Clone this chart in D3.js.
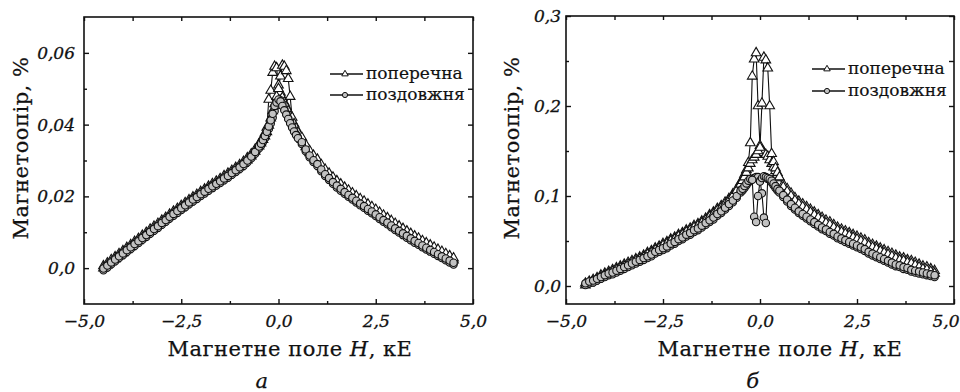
<!DOCTYPE html>
<html>
<head>
<meta charset="utf-8">
<script src="https://cdn.jsdelivr.net/npm/d3@7"></script>
<style>
body { margin: 0; background: #fff; }
svg { display: block; }
.tick text { font-family: "DejaVu Serif", serif; font-style: italic; font-size: 17px; fill: #111; stroke: #111; stroke-width: 0.3px; }
.title { font-family: "DejaVu Serif", serif; font-size: 21px; letter-spacing: 0.5px; fill: #111; stroke: #111; stroke-width: 0.25px; }
.leg { font-family: "DejaVu Serif", serif; font-size: 17px; fill: #111; stroke: #111; stroke-width: 0.2px; }
</style>
</head>
<body>
<div id="chart"></div>
<script>
// magnetic field H, kOe (same grid for every sweep)
var fieldH = [
  -4.5, -4.4, -4.3, -4.2, -4.1, -4.0, -3.9, -3.8, -3.7, -3.6,
  -3.5, -3.4, -3.3, -3.2, -3.1, -3.0, -2.9, -2.8, -2.7, -2.6,
  -2.5, -2.4, -2.3, -2.2, -2.1, -2.0, -1.9, -1.8, -1.7, -1.6,
  -1.5, -1.4, -1.3, -1.2, -1.1, -1.0, -0.9, -0.8, -0.7, -0.6,
  -0.5, -0.45, -0.4, -0.35, -0.3, -0.25, -0.2, -0.15, -0.1, -0.05,
  0, 0.05, 0.1, 0.15, 0.2, 0.25, 0.3, 0.35, 0.4, 0.45, 0.5,
  0.6, 0.7, 0.8, 0.9, 1.0, 1.1, 1.2, 1.3, 1.4, 1.5,
  1.6, 1.7, 1.8, 1.9, 2.0, 2.1, 2.2, 2.3, 2.4, 2.5,
  2.6, 2.7, 2.8, 2.9, 3.0, 3.1, 3.2, 3.3, 3.4, 3.5,
  3.6, 3.7, 3.8, 3.9, 4.0, 4.1, 4.2, 4.3, 4.4, 4.5
];

// panel a, magnetoresistance %
var aTransUp = [
  0.0006, 0.0014, 0.0023, 0.0031, 0.0040, 0.0048, 0.0057, 0.0065, 0.0074, 0.0082,
  0.0091, 0.0099, 0.0108, 0.0116, 0.0124, 0.0133, 0.0141, 0.0150, 0.0158, 0.0166,
  0.0174, 0.0182, 0.0190, 0.0198, 0.0205, 0.0213, 0.0220, 0.0228, 0.0235, 0.0242,
  0.0249, 0.0257, 0.0264, 0.0272, 0.0280, 0.0288, 0.0297, 0.0307, 0.0318, 0.0331,
  0.0346, 0.0354, 0.0364, 0.0376, 0.0392, 0.0470, 0.0495, 0.0545, 0.0562, 0.0558,
  0.0510, 0.0490, 0.0475, 0.0462, 0.0450, 0.0438, 0.0423, 0.0410, 0.0398, 0.0386, 0.0376,
  0.0358, 0.0338, 0.0321, 0.0308, 0.0297, 0.0282, 0.0269, 0.0258, 0.0247, 0.0237,
  0.0228, 0.0219, 0.0211, 0.0203, 0.0195, 0.0187, 0.0180, 0.0172, 0.0165, 0.0157,
  0.0149, 0.0141, 0.0134, 0.0126, 0.0118, 0.0111, 0.0104, 0.0097, 0.0090, 0.0083,
  0.0077, 0.0070, 0.0064, 0.0058, 0.0052, 0.0046, 0.0040, 0.0034, 0.0028, 0.0022
];
var aTransDown = [
  0.0000, 0.0008, 0.0017, 0.0025, 0.0034, 0.0042, 0.0051, 0.0059, 0.0068, 0.0076,
  0.0085, 0.0093, 0.0102, 0.0110, 0.0118, 0.0127, 0.0135, 0.0144, 0.0152, 0.0160,
  0.0168, 0.0176, 0.0184, 0.0192, 0.0199, 0.0207, 0.0214, 0.0222, 0.0229, 0.0236,
  0.0243, 0.0251, 0.0258, 0.0266, 0.0274, 0.0282, 0.0291, 0.0301, 0.0312, 0.0325,
  0.0340, 0.0348, 0.0358, 0.0368, 0.0380, 0.0398, 0.0418, 0.0438, 0.0458, 0.0478,
  0.0500, 0.0535, 0.0565, 0.0562, 0.0550, 0.0528, 0.0478, 0.0420, 0.0402, 0.0390, 0.0378,
  0.0364, 0.0344, 0.0327, 0.0314, 0.0303, 0.0288, 0.0275, 0.0264, 0.0253, 0.0243,
  0.0234, 0.0225, 0.0217, 0.0209, 0.0201, 0.0193, 0.0186, 0.0178, 0.0171, 0.0163,
  0.0155, 0.0147, 0.0140, 0.0132, 0.0124, 0.0117, 0.0110, 0.0103, 0.0096, 0.0089,
  0.0083, 0.0076, 0.0070, 0.0064, 0.0058, 0.0052, 0.0046, 0.0040, 0.0034, 0.0028
];
var aLongUp = [
  -0.0006, 0.0002, 0.0011, 0.0019, 0.0028, 0.0036, 0.0045, 0.0053, 0.0062, 0.0070,
  0.0079, 0.0087, 0.0096, 0.0104, 0.0112, 0.0121, 0.0129, 0.0138, 0.0146, 0.0154,
  0.0162, 0.0170, 0.0178, 0.0186, 0.0193, 0.0201, 0.0208, 0.0216, 0.0223, 0.0230,
  0.0237, 0.0245, 0.0252, 0.0260, 0.0268, 0.0276, 0.0285, 0.0295, 0.0306, 0.0319,
  0.0334, 0.0342, 0.0352, 0.0362, 0.0374, 0.0388, 0.0403, 0.0420, 0.0438, 0.0453,
  0.0460, 0.0468, 0.0458, 0.0443, 0.0430, 0.0418, 0.0406, 0.0394, 0.0383, 0.0373, 0.0364,
  0.0346, 0.0326, 0.0309, 0.0296, 0.0285, 0.0270, 0.0257, 0.0246, 0.0235, 0.0225,
  0.0216, 0.0207, 0.0199, 0.0191, 0.0183, 0.0175, 0.0168, 0.0160, 0.0153, 0.0145,
  0.0137, 0.0129, 0.0122, 0.0114, 0.0106, 0.0099, 0.0092, 0.0085, 0.0078, 0.0071,
  0.0065, 0.0058, 0.0052, 0.0046, 0.0040, 0.0034, 0.0028, 0.0022, 0.0016, 0.0010
];
var aLongDown = [
  -0.0001, 0.0007, 0.0016, 0.0024, 0.0033, 0.0041, 0.0050, 0.0058, 0.0067, 0.0075,
  0.0084, 0.0092, 0.0101, 0.0109, 0.0117, 0.0126, 0.0134, 0.0143, 0.0151, 0.0159,
  0.0167, 0.0175, 0.0183, 0.0191, 0.0198, 0.0206, 0.0213, 0.0221, 0.0228, 0.0235,
  0.0242, 0.0250, 0.0257, 0.0265, 0.0273, 0.0281, 0.0290, 0.0300, 0.0311, 0.0324,
  0.0339, 0.0347, 0.0357, 0.0368, 0.0380, 0.0395, 0.0412, 0.0430, 0.0452, 0.0462,
  0.0470, 0.0465, 0.0452, 0.0440, 0.0428, 0.0416, 0.0404, 0.0392, 0.0381, 0.0371, 0.0362,
  0.0351, 0.0331, 0.0314, 0.0301, 0.0290, 0.0275, 0.0262, 0.0251, 0.0240, 0.0230,
  0.0221, 0.0212, 0.0204, 0.0196, 0.0188, 0.0180, 0.0173, 0.0165, 0.0158, 0.0150,
  0.0142, 0.0134, 0.0127, 0.0119, 0.0111, 0.0104, 0.0097, 0.0090, 0.0083, 0.0076,
  0.0070, 0.0063, 0.0057, 0.0051, 0.0045, 0.0039, 0.0033, 0.0027, 0.0021, 0.0015
];

// panel b, magnetoresistance %
var bTransUp = [
  0.003, 0.005, 0.007, 0.009, 0.012, 0.014, 0.016, 0.018, 0.020, 0.022,
  0.024, 0.026, 0.028, 0.030, 0.032, 0.034, 0.037, 0.039, 0.042, 0.044,
  0.047, 0.049, 0.052, 0.054, 0.057, 0.059, 0.062, 0.064, 0.067, 0.069,
  0.072, 0.075, 0.079, 0.082, 0.086, 0.089, 0.093, 0.097, 0.102, 0.108,
  0.115, 0.119, 0.124, 0.129, 0.137, 0.159, 0.233, 0.252, 0.259, 0.200,
  0.156, 0.151, 0.148, 0.146, 0.144, 0.140, 0.136, 0.132, 0.128, 0.124, 0.120,
  0.113, 0.108, 0.103, 0.098, 0.094, 0.091, 0.088, 0.085, 0.082, 0.079,
  0.076, 0.073, 0.071, 0.068, 0.065, 0.063, 0.061, 0.059, 0.057, 0.055,
  0.053, 0.051, 0.048, 0.046, 0.044, 0.042, 0.040, 0.038, 0.036, 0.034,
  0.032, 0.031, 0.029, 0.028, 0.026, 0.024, 0.022, 0.021, 0.019, 0.017
];
var bTransDown = [
  0.001, 0.003, 0.005, 0.007, 0.010, 0.012, 0.014, 0.016, 0.018, 0.020,
  0.022, 0.024, 0.026, 0.028, 0.030, 0.032, 0.035, 0.037, 0.040, 0.042,
  0.045, 0.047, 0.050, 0.052, 0.055, 0.057, 0.060, 0.062, 0.065, 0.067,
  0.070, 0.073, 0.077, 0.080, 0.084, 0.087, 0.091, 0.095, 0.100, 0.106,
  0.113, 0.117, 0.121, 0.126, 0.131, 0.136, 0.140, 0.143, 0.146, 0.150,
  0.154, 0.203, 0.254, 0.251, 0.242, 0.200, 0.147, 0.138, 0.131, 0.126, 0.121,
  0.110, 0.105, 0.100, 0.095, 0.091, 0.088, 0.085, 0.082, 0.079, 0.076,
  0.073, 0.070, 0.068, 0.065, 0.062, 0.060, 0.058, 0.056, 0.054, 0.052,
  0.050, 0.048, 0.045, 0.043, 0.041, 0.039, 0.037, 0.035, 0.033, 0.031,
  0.029, 0.028, 0.026, 0.025, 0.023, 0.021, 0.019, 0.018, 0.016, 0.014
];
var bLongUp = [
  0.001, 0.003, 0.004, 0.006, 0.008, 0.010, 0.012, 0.013, 0.015, 0.017,
  0.019, 0.021, 0.023, 0.025, 0.027, 0.029, 0.031, 0.033, 0.036, 0.038,
  0.040, 0.042, 0.045, 0.047, 0.050, 0.052, 0.055, 0.057, 0.060, 0.062,
  0.065, 0.068, 0.071, 0.074, 0.078, 0.081, 0.085, 0.089, 0.093, 0.098,
  0.104, 0.106, 0.109, 0.112, 0.115, 0.117, 0.119, 0.120, 0.121, 0.121,
  0.117, 0.103, 0.076, 0.070, 0.119, 0.118, 0.115, 0.112, 0.109, 0.106, 0.104,
  0.099, 0.094, 0.089, 0.085, 0.081, 0.078, 0.075, 0.072, 0.069, 0.066,
  0.063, 0.061, 0.058, 0.056, 0.053, 0.051, 0.049, 0.047, 0.045, 0.043,
  0.041, 0.039, 0.036, 0.034, 0.032, 0.030, 0.028, 0.026, 0.024, 0.022,
  0.021, 0.019, 0.018, 0.016, 0.015, 0.014, 0.013, 0.012, 0.011, 0.010
];
var bLongDown = [
  0.003, 0.005, 0.006, 0.008, 0.010, 0.012, 0.014, 0.015, 0.017, 0.019,
  0.021, 0.023, 0.025, 0.027, 0.029, 0.031, 0.033, 0.035, 0.038, 0.040,
  0.042, 0.044, 0.047, 0.049, 0.052, 0.054, 0.057, 0.059, 0.062, 0.064,
  0.067, 0.070, 0.073, 0.076, 0.080, 0.083, 0.087, 0.091, 0.095, 0.100,
  0.106, 0.108, 0.111, 0.114, 0.117, 0.119, 0.118, 0.077, 0.071, 0.100,
  0.116, 0.120, 0.122, 0.121, 0.120, 0.119, 0.117, 0.114, 0.111, 0.108, 0.106,
  0.101, 0.096, 0.091, 0.087, 0.083, 0.080, 0.077, 0.074, 0.071, 0.068,
  0.065, 0.063, 0.060, 0.058, 0.055, 0.053, 0.051, 0.049, 0.047, 0.045,
  0.043, 0.041, 0.038, 0.036, 0.034, 0.032, 0.030, 0.028, 0.026, 0.024,
  0.023, 0.021, 0.020, 0.018, 0.017, 0.016, 0.015, 0.014, 0.013, 0.012
];

var seriesNames = ["поперечна", "поздовжня"];
var xTicks = [-5, -2.5, 0, 2.5, 5];
var xTickLabels = ["\u22125,0", "\u22122,5", "0,0", "2,5", "5,0"];
var xMinor = [-3.75, -1.25, 1.25, 3.75];
var aYTicks = [0, 0.02, 0.04, 0.06];
var aYTickLabels = ["0,0", "0,02", "0,04", "0,06"];
var aYMinor = [0.01, 0.03, 0.05];
var bYTicks = [0, 0.1, 0.2, 0.3];
var bYTickLabels = ["0,0", "0,1", "0,2", "0,3"];
var bYMinor = [0.05, 0.15, 0.25];

var svg = d3.select("#chart").append("svg")
    .attr("width", 960)
    .attr("height", 392);

svg.append("rect").attr("width", 960).attr("height", 392).attr("fill", "#fff");

function drawPanel(p) {
    var g = svg.append("g");
    var x = d3.scaleLinear().domain([-5, 5]).range([p.left, p.right]);
    var y = d3.scaleLinear().domain(p.yDomain).range([p.bottom, p.top]);

    // inward ticks on all four sides
    var bx = g.append("g").attr("transform", "translate(0," + p.bottom + ")")
        .call(d3.axisBottom(x).tickValues(xTicks).tickFormat((d, i) => xTickLabels[i])
            .tickSizeInner(-5).tickSizeOuter(0).tickPadding(11));
    if (p.lastLabelEnd) {
        // last label would run off the page, keep it inside
        bx.selectAll(".tick").filter(d => d == 5).select("text")
            .attr("text-anchor", "end").attr("x", p.lastLabelEnd - p.right);
    }
    g.append("g").attr("transform", "translate(0," + p.bottom + ")")
        .call(d3.axisBottom(x).tickValues(xMinor).tickFormat("").tickSizeInner(-3).tickSizeOuter(0));
    g.append("g").attr("transform", "translate(0," + p.top + ")")
        .call(d3.axisTop(x).tickValues(xTicks.concat(xMinor)).tickFormat("").tickSizeInner(-4).tickSizeOuter(0));
    g.append("g").attr("transform", "translate(" + p.left + ",0)")
        .call(d3.axisLeft(y).tickValues(p.yTicks).tickFormat((d, i) => p.yLabels[i])
            .tickSizeInner(-5).tickSizeOuter(0).tickPadding(p.yPad));
    g.append("g").attr("transform", "translate(" + p.left + ",0)")
        .call(d3.axisLeft(y).tickValues(p.yMinor).tickFormat("").tickSizeInner(-3).tickSizeOuter(0));
    g.append("g").attr("transform", "translate(" + p.right + ",0)")
        .call(d3.axisRight(y).tickValues(p.yTicks.concat(p.yMinor)).tickFormat("").tickSizeInner(-5).tickSizeOuter(0));

    g.selectAll(".domain").remove();
    g.selectAll(".tick line").attr("stroke", "#111").attr("stroke-width", 1.4);

    g.append("rect")
        .attr("x", p.left).attr("y", p.top)
        .attr("width", p.right - p.left).attr("height", p.bottom - p.top)
        .attr("fill", "none").attr("stroke", "#111").attr("stroke-width", 1.6);

    var line = d3.line().x(d => x(d[0])).y(d => y(d[1]));
    var tri = d3.symbol().type(d3.symbolTriangle).size(40);

    p.series.forEach(function(s) {
        s.sweeps.forEach(function(vals) {
            g.append("path").datum(d3.zip(fieldH, vals))
                .attr("d", line)
                .attr("fill", "none")
                .attr("stroke", "#111")
                .attr("stroke-width", 1.1);
        });
        s.sweeps.forEach(function(vals) {
            var pts = d3.zip(fieldH, vals);
            if (s.shape == "triangle") {
                g.append("g").selectAll("path").data(pts).enter().append("path")
                    .attr("transform", d => "translate(" + x(d[0]) + "," + y(d[1]) + ")")
                    .attr("d", tri)
                    .attr("fill", "#fff").attr("stroke", "#111").attr("stroke-width", 1.1);
            } else {
                g.append("g").selectAll("circle").data(pts).enter().append("circle")
                    .attr("cx", d => x(d[0])).attr("cy", d => y(d[1]))
                    .attr("r", 3.7)
                    .attr("fill", "#c2c2c2").attr("stroke", "#111").attr("stroke-width", 1.1);
            }
        });
    });

    // legend
    seriesNames.forEach(function(name, i) {
        var ly = p.legY[i];
        g.append("line")
            .attr("x1", p.legX).attr("x2", p.legX + 33)
            .attr("y1", ly - 5).attr("y2", ly - 5)
            .attr("stroke", "#111").attr("stroke-width", 1.4);
        if (i == 0) {
            g.append("path")
                .attr("transform", "translate(" + (p.legX + 15) + "," + (ly - 5) + ")")
                .attr("d", d3.symbol().type(d3.symbolTriangle).size(18))
                .attr("fill", "#fff").attr("stroke", "#111").attr("stroke-width", 1);
        } else {
            g.append("circle")
                .attr("cx", p.legX + 15).attr("cy", ly - 5).attr("r", 2.6)
                .attr("fill", "#c2c2c2").attr("stroke", "#111").attr("stroke-width", 1);
        }
        g.append("text").attr("class", "leg")
            .attr("x", p.legX + 36).attr("y", ly)
            .text(name);
    });

    // axis titles
    var xt = g.append("text").attr("class", "title")
        .attr("x", p.xTitleX).attr("y", 356)
        .attr("text-anchor", "middle");
    xt.append("tspan").text("Магнетне поле ");
    xt.append("tspan").attr("font-style", "italic").text("H");
    xt.append("tspan").text(", кЕ");

    g.append("text").attr("class", "title")
        .attr("transform", "translate(" + p.yTitleX + ",148) rotate(-90)")
        .attr("text-anchor", "middle")
        .text("Магнетоопір, %");

    g.append("text").attr("class", "title")
        .attr("x", p.letterX).attr("y", 388)
        .attr("text-anchor", "middle")
        .attr("font-style", "italic")
        .text(p.letter);
}

drawPanel({
    left: 84, right: 473, top: 17, bottom: 304,
    yDomain: [-0.01, 0.07],
    yTicks: aYTicks, yLabels: aYTickLabels, yMinor: aYMinor, yPad: 9,
    series: [
        {shape: "triangle", sweeps: [aTransUp, aTransDown]},
        {shape: "circle", sweeps: [aLongUp, aLongDown]}
    ],
    legX: 330, legY: [79, 100],
    xTitleX: 290, yTitleX: 28, letterX: 262, letter: "а"
});

drawPanel({
    left: 566, right: 954, top: 16, bottom: 304,
    yDomain: [-0.02, 0.3],
    yTicks: bYTicks, yLabels: bYTickLabels, yMinor: bYMinor, yPad: 5,
    series: [
        {shape: "triangle", sweeps: [bTransUp, bTransDown]},
        {shape: "circle", sweeps: [bLongUp, bLongDown]}
    ],
    legX: 812, legY: [74, 96],
    xTitleX: 780, yTitleX: 519, letterX: 753, letter: "б",
    lastLabelEnd: 959
});
</script>
</body>
</html>
